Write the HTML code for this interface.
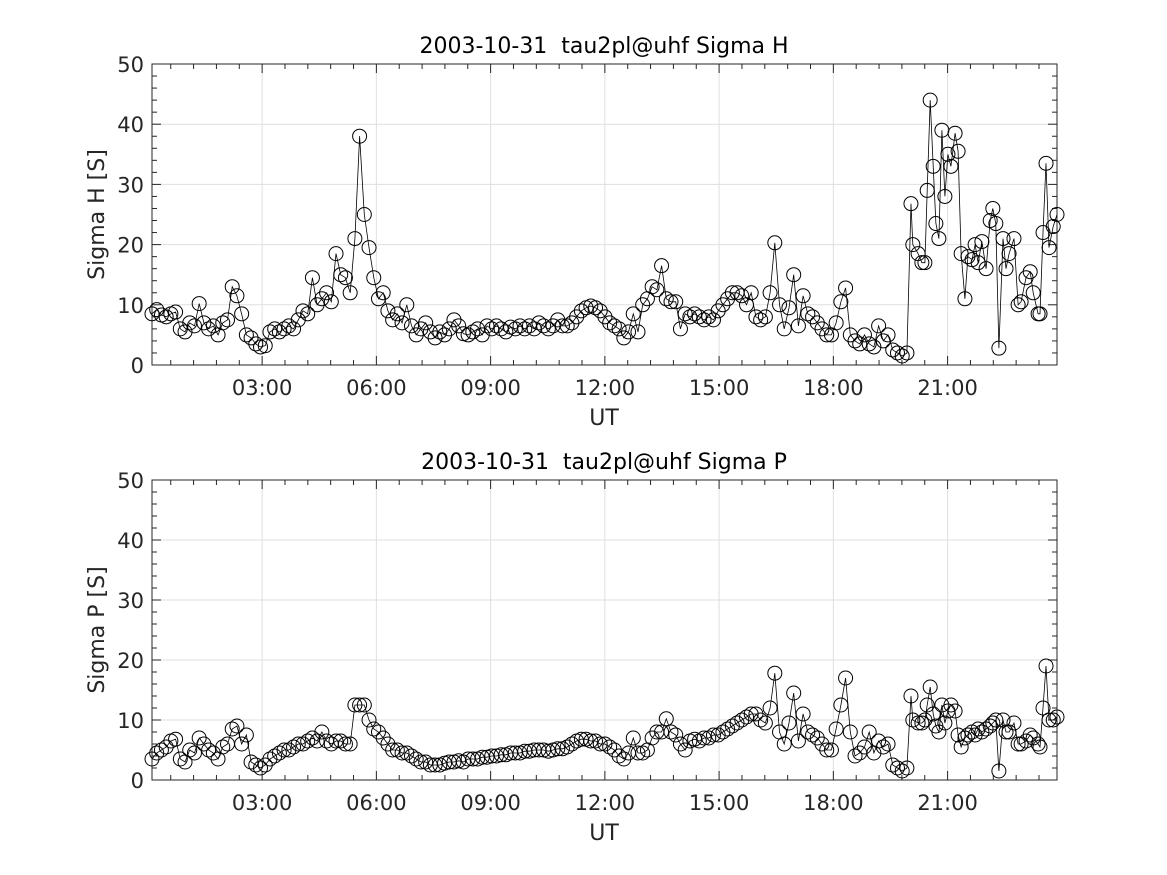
<!DOCTYPE html>
<html><head><meta charset="utf-8"><style>
html,body{margin:0;padding:0;background:#fff;}
svg{display:block;font-family:"DejaVu Sans","Liberation Sans",sans-serif;}
</style></head><body>
<svg id="fig" width="1167" height="875" viewBox="0 0 1167 875" xmlns="http://www.w3.org/2000/svg"></svg>
<script>
// ---- data ----
const tStart = 0.108;
const tStep = 0.1239;
const tUniformCount = 161;
const tTail = [20.038,20.087,20.226,20.325,20.404,20.464,20.543,20.622,20.692,20.771,20.850,20.929,21.009,21.088,21.197,21.276,21.356,21.455,21.534,21.643,21.722,21.802,21.901,22.010,22.119,22.188,22.267,22.347,22.456,22.535,22.614,22.743,22.852,22.931,23.060,23.169,23.248,23.377,23.427,23.506,23.585,23.664,23.774,23.873];
const sigmaH = [
8.5,9.2,8.3,8,8.5,8.8,6,5.5,
7,6.5,10.2,7,6,6.5,5,7,
7.5,13,11.5,8.5,5,4.5,3.5,3,
3.2,5.5,6,5.5,6,6.5,6,7.5,
9,8.5,14.5,10,11,12,10.5,18.5,
15,14.5,12,21,38,25,19.5,14.5,
11,12,9,7.5,8.5,7,10,6.5,
5,6,7,5.5,4.5,5.5,5,6,
7.5,6.5,5.2,5,5.5,6,5,6.5,
6,6.5,6,5.5,6.3,6,6.5,6,
6.5,6,7,6.5,6,6.5,7.5,6.5,
6.5,7,8,9,9.5,9.8,9.5,9,
8,7,6.5,6,4.5,5.5,8.5,5.5,
10,11,13,12.5,16.5,11,10.5,10.5,
6,8.5,8,8.5,8,7.5,8,7.5,
9,10,11,12,12,11.5,10,12,
8,7.5,8,12,20.3,10,6,9.5,
15,6.5,11.5,8.5,8,7,6,5,
5,7,10.5,12.8,5,4,3.5,5,
3.5,3,6.5,4,5,2.5,2,1.5,
2,
26.8,20,18.5,17,17,29,44,33,23.5,21,39,28,35,33,38.5,35.5,18.5,11,18,17.5,20,17,20.5,16,24,26,23.5,2.8,21,16,18.5,21,10,10.5,14.5,15.5,12,8.5,8.5,22,33.5,19.5,23,25];
const sigmaP = [
3.5,4.5,5,5.5,6.5,6.8,3.5,3,
5,4.5,7,6,5,4.5,3.5,5.5,
6,8.5,9,6,7.5,3,2.5,2,
2.5,3.5,4,4.5,5,5,5.5,6,
6,6.5,7,6.5,8,6.5,6,6.5,
6.5,6,6,12.5,12.5,12.5,10,8.5,
8,7,6,5,5,4.5,4.5,4,
3.5,3,3,2.5,2.5,2.5,2.8,3,
3,3.2,3,3.5,3.5,3.5,3.8,3.8,
4,4,4.2,4.2,4.5,4.5,4.5,4.8,
4.8,5,5,5,4.8,5,5.2,5.2,
5.5,6,6.5,6.8,6.8,6.5,6.5,6,
6,5.5,5,4,3.5,4.5,7,4.5,
4.5,5,7,8,8,10.2,8,7.5,
6,5,6.5,6.8,6.5,7,7,7.5,
7.5,8,8.5,9,9.5,10,10.5,11,
11,10,9.5,12,17.8,8,6,9.5,
14.5,6.5,11,8,7.5,7,6,5,
5,8.5,12.5,17,8,4,4.5,5.5,
8,4.5,6.5,5.5,6,2.5,2,1.5,
2,
14,10,9.5,9.5,10,12.5,15.5,11,9,8,12.5,9.5,11.5,12.5,11.5,7.5,5.5,7,7.5,8,7.5,8.5,8,8.5,9,9.5,10,1.5,10,8,8,9.5,6,6,6.5,7.5,7,6,5.5,12,19,10,10,10.5];
const xTickHours = [3,6,9,12,15,18,21];
const xTickLabels = ["03:00","06:00","09:00","12:00","15:00","18:00","21:00"];
const yTicks = [0,10,20,30,40,50];

// ---- build ----
const times = [];
for (let i = 0; i < tUniformCount; i++) times.push(tStart + i * tStep);
tTail.forEach(v => times.push(v));

const NS = "http://www.w3.org/2000/svg";
const fig = document.getElementById('fig');
function mk(tag, attrs, parent) {
  const e = document.createElementNS(NS, tag);
  for (const k in attrs) e.setAttribute(k, attrs[k]);
  (parent || fig).appendChild(e);
  return e;
}
const X0 = 152, X1 = 1057, tMin = 0.108, tMax = 23.873;
function xs(t) { return X0 + (t - tMin) / (tMax - tMin) * (X1 - X0); }

function panel(top, bottom, values, title, ylab, key) {
  const g = mk('g', {});
  
  
  const ys = v => bottom - v / 50 * (bottom - top);
  xTickHours.forEach(h => {
    const l = mk('line', {x1: xs(h), x2: xs(h), y1: top, y2: bottom, stroke: '#dfdfdf', 'stroke-width': 1}, g);
    
    
  });
  yTicks.forEach(v => {
    const l = mk('line', {x1: X0, x2: X1, y1: ys(v), y2: ys(v), stroke: '#dfdfdf', 'stroke-width': 1}, g);
    
    
  });
  for (let h = 0.6; h < tMax; h += 0.6) {
    if (h < tMin) continue;
    const maj = Math.abs(h / 3 - Math.round(h / 3)) < 0.01;
    const len = maj ? 9 : 5;
    mk('line', {x1: xs(h), x2: xs(h), y1: bottom, y2: bottom - len, stroke: '#262626'}, g);
    mk('line', {x1: xs(h), x2: xs(h), y1: top, y2: top + len, stroke: '#262626'}, g);
  }
  for (let v = 0; v <= 50; v += 2) {
    const maj = v % 10 === 0;
    const len = maj ? 9 : 5;
    mk('line', {x1: X0, x2: X0 + len, y1: ys(v), y2: ys(v), stroke: '#262626'}, g);
    mk('line', {x1: X1, x2: X1 - len, y1: ys(v), y2: ys(v), stroke: '#262626'}, g);
  }
  const box = mk('rect', {x: X0, y: top, width: X1 - X0, height: bottom - top, fill: 'none', stroke: '#262626', 'stroke-width': 1}, g);
  
  
  xTickHours.forEach((h, i) => {
    const t = mk('text', {x: xs(h), y: bottom + 30, 'text-anchor': 'middle', 'font-size': 21, fill: '#262626'}, g);
    t.textContent = xTickLabels[i];
    
    
  });
  yTicks.forEach(v => {
    const t = mk('text', {x: 144, y: ys(v) + 8, 'text-anchor': 'end', 'font-size': 21, fill: '#262626'}, g);
    t.textContent = v;
    
    
  });
  const xl = mk('text', {x: 604, y: bottom + 60, 'text-anchor': 'middle', 'font-size': 22, fill: '#262626'}, g);
  xl.textContent = 'UT';
  
  
  const yl = mk('text', {x: 0, y: 0, 'text-anchor': 'middle', 'font-size': 22, fill: '#262626', transform: `translate(104 ${(top + bottom) / 2}) rotate(-90)`}, g);
  yl.textContent = ylab;
  
  
  const tt = mk('text', {x: 604, y: top - 11, 'text-anchor': 'middle', 'font-size': 22, fill: '#000'}, g);
  tt.textContent = title;
  tt.setAttribute('xml:space', 'preserve');
  tt.style.whiteSpace = 'pre';
  
  
  const pts = values.map((v, i) => xs(times[i]).toFixed(1) + ',' + ys(v).toFixed(1)).join(' ');
  const pl = mk('polyline', {points: pts, fill: 'none', stroke: '#000', 'stroke-width': 0.8}, g);
  
  
  values.forEach((v, i) => {
    const c = mk('circle', {cx: xs(times[i]), cy: ys(v), r: 7, fill: 'none', stroke: '#000', 'stroke-width': 1}, g);
    
    
  });
}
panel(64, 365, sigmaH, '2003-10-31  tau2pl@uhf Sigma H', 'Sigma H [S]', 'sigma-h');
panel(480, 780, sigmaP, '2003-10-31  tau2pl@uhf Sigma P', 'Sigma P [S]', 'sigma-p');
</script>
</body></html>
